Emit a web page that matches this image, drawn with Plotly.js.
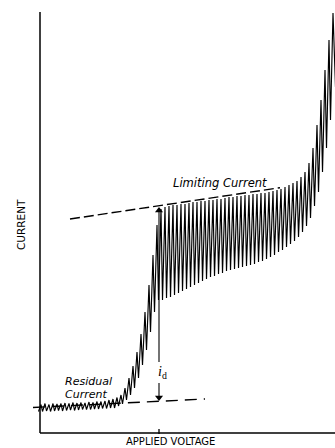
<!DOCTYPE html>
<html>
<head>
<meta charset="utf-8">
<script src="https://cdn.plot.ly/plotly-3.0.1.min.js"></script>
<style>html,body{margin:0;padding:0;background:#fff;}#chart{width:335px;height:448px;}</style>
</head>
<body>
<div id="chart"></div>
<script>
// Applied voltage (V) at the top of each drop oscillation
const dropVoltage = [0.01,0.05,0.09,0.13,0.17,0.21,0.25,0.29,0.33,0.37,0.41,0.45,0.49,0.53,0.57,0.61,0.65,0.69,0.73,0.77,
  0.81,0.85,0.89,0.93,0.97,1.01,1.05,1.09,1.13,1.17,
  1.21,1.25,1.29,1.33,1.37,1.41,1.45,1.49,1.53,1.57,1.61,1.65,1.69,1.73,1.77,1.81,1.85,1.89,1.93,1.97,
  2.01,2.05,2.09,2.13,2.17,2.21,2.25,2.29,2.33,2.37,2.41,2.45,2.49,2.53,
  2.57,2.61,2.65,2.69,2.73,2.77,2.81,2.85,2.89,2.93];
// Current at the top of each oscillation (drop fall)
const peakCurrent = [2.85,2.95,2.85,2.95,2.9,2.95,3.0,2.95,3.05,3.0,3.05,3.0,3.1,3.05,3.15,3.15,3.2,3.3,3.4,3.55,
  3.8,4.5,5.5,6.7,8.1,9.9,12.1,14.8,17.8,20.8,
  22.4,22.6,22.7,22.8,22.8,22.9,22.9,23.0,23.1,23.1,23.2,23.2,23.3,23.3,23.4,23.4,23.5,23.6,23.6,23.7,
  23.7,23.8,23.8,23.9,23.9,24.0,24.0,24.1,24.2,24.3,24.4,24.6,24.8,25.0,
  25.2,25.6,26.1,27.0,28.5,30.8,33.3,36.3,39.3,42.0];
// Current at the start of each oscillation (new drop)
const troughCurrent = [2.15,2.15,2.2,2.15,2.2,2.25,2.2,2.25,2.3,2.25,2.3,2.35,2.35,2.35,2.4,2.4,2.45,2.45,2.5,2.5,
  2.7,2.9,3.3,3.8,4.5,5.5,6.8,8.3,10.1,12.1,
  13.3,13.3,13.5,13.6,13.8,14.0,14.2,14.4,14.6,14.8,15.0,15.2,15.4,15.6,15.7,15.9,16.0,16.2,16.3,16.4,
  16.5,16.6,16.7,16.8,16.9,17.1,17.2,17.4,17.6,17.8,18.1,18.3,18.6,18.9,
  19.2,19.6,20.1,20.7,21.5,22.7,24.1,26.1,28.5,31.3];
const lastTroughVoltage = 2.955, lastTroughCurrent = 34.6;
// Extrapolated lines [V0, I0, V1, I1]
const limitingLine = [0.30, 21.4, 2.40, 24.53];
const residualLine = [-0.07, 2.55, 1.65, 3.4];
// i_d arrow position and limits
const idVoltage = 1.19;
const idTop = 22.6, idBottom = 3.2, idGapTop = 7.1, idGapBottom = 5.0;
const voltageTicks = [1.19];

const RISE = 0.025; // pen travel during rise stroke
const xs = [], ys = [];
for (let i = 0; i < dropVoltage.length; i++) {
  xs.push(dropVoltage[i] - RISE); ys.push(troughCurrent[i]);
  xs.push(dropVoltage[i]); ys.push(peakCurrent[i]);
}
xs.push(lastTroughVoltage); ys.push(lastTroughCurrent);

const ink = '#000';
const trace = {x: xs, y: ys, mode: 'lines', line: {color: ink, width: 1.15}, hoverinfo: 'skip'};
const HEAD = 0.35; // half arrowhead height in current units
const heads = {x:[idVoltage, idVoltage], y:[idTop - HEAD, idBottom + HEAD], mode:'markers',
  marker:{symbol:['triangle-up','triangle-down'], size:7, color:ink, line:{width:0}}, hoverinfo:'skip'};

const font = {family: 'DejaVu Sans, Arial, sans-serif', color: ink};
const shapes = [
  {type:'line', xref:'x', yref:'y', x0:0, x1:0, y0:0, y1:42.1, line:{color:ink, width:1.5}},
  {type:'line', xref:'x', yref:'y', x0:0, x1:2.95, y0:0, y1:0, line:{color:ink, width:1.5}},
  {type:'line', xref:'x', yref:'y', x0:limitingLine[0], y0:limitingLine[1], x1:limitingLine[2], y1:limitingLine[3], line:{color:ink, width:1.4, dash:'10px,4px'}},
  {type:'line', xref:'x', yref:'y', x0:residualLine[0], y0:residualLine[1], x1:residualLine[2], y1:residualLine[3], line:{color:ink, width:1.4, dash:'12px,7px'}},
  {type:'line', xref:'x', yref:'y', x0:idVoltage, x1:idVoltage, y0:idGapTop, y1:idTop - HEAD, line:{color:ink, width:1.1}},
  {type:'line', xref:'x', yref:'y', x0:idVoltage, x1:idVoltage, y0:idGapBottom, y1:idBottom + HEAD, line:{color:ink, width:1.1}}
];
voltageTicks.forEach(v => shapes.push({type:'line', xref:'x', yref:'y', x0:v, x1:v, y0:-0.1, y1:0.4, line:{color:ink, width:1.3}}));

const annotations = [
  {x:1.155, y:6.1, xref:'x', yref:'y', xanchor:'left', yanchor:'middle', showarrow:false, text:'<i>i</i><sub>d</sub>', font:{family:'Liberation Serif, serif', size:14, color:ink}},
  {x:1.80, y:25.0, xref:'x', yref:'y', xanchor:'center', yanchor:'middle', showarrow:false, text:'Limiting Current', font:Object.assign({}, font, {size:11.5, style:'italic'})},
  {x:0.23, y:5.15, xref:'x', yref:'y', xanchor:'left', yanchor:'middle', showarrow:false, text:'Residual', font:Object.assign({}, font, {size:11, style:'italic'})},
  {x:0.23, y:3.85, xref:'x', yref:'y', xanchor:'left', yanchor:'middle', showarrow:false, text:'Current', font:Object.assign({}, font, {size:11, style:'italic'})},
  {x:1.305, y:-0.0125, xref:'x', yref:'paper', xanchor:'center', yanchor:'middle', showarrow:false, text:'APPLIED VOLTAGE', font:Object.assign({}, font, {size:10})},
  {x:-0.0363, y:20.8, xref:'paper', yref:'y', xanchor:'center', yanchor:'middle', textangle:-90, showarrow:false, text:'CURRENT', font:Object.assign({}, font, {size:10.5})}
];

const layout = {
  width:335, height:448, margin:{l:32, r:0, t:10, b:12},
  paper_bgcolor:'#fff', plot_bgcolor:'#fff', showlegend:false,
  xaxis:{range:[-0.08, 2.95], visible:false, fixedrange:true},
  yaxis:{range:[-0.3, 42.3], visible:false, fixedrange:true},
  shapes: shapes, annotations: annotations
};
Plotly.newPlot('chart', [trace, heads], layout, {displayModeBar:false, staticPlot:true});
</script>
</body>
</html>
